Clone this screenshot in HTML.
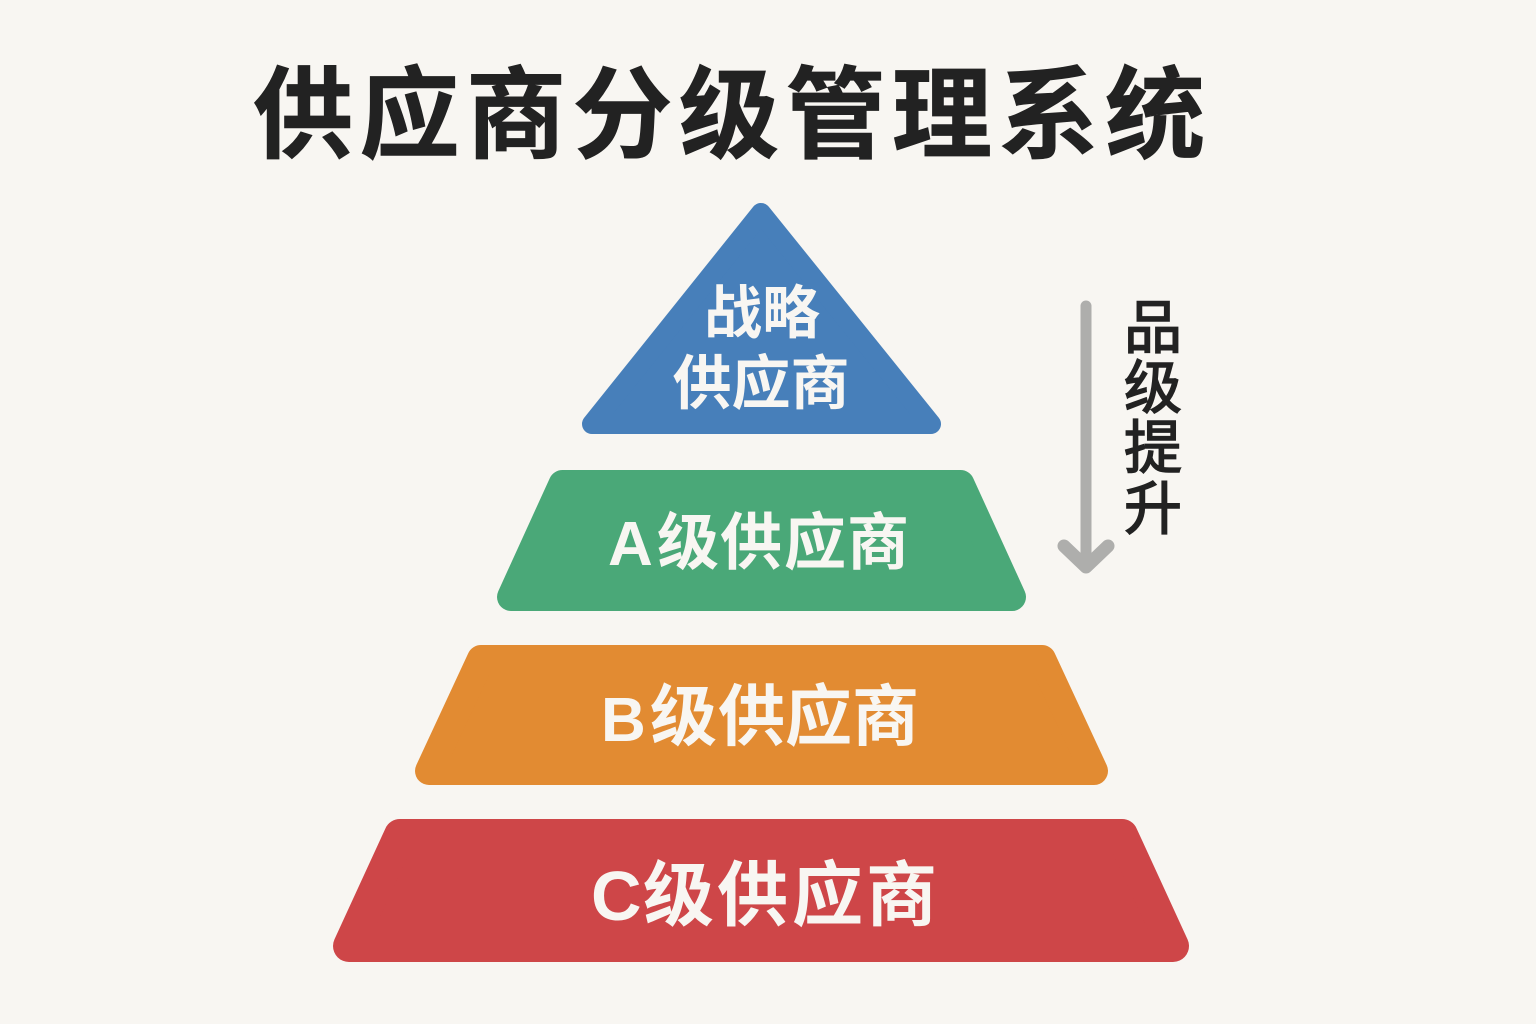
<!DOCTYPE html>
<html lang="zh">
<head>
<meta charset="utf-8">
<style>
html,body{margin:0;padding:0;background:#f8f6f2;}
svg{display:block;}
text{font-family:"Liberation Sans","Noto Sans CJK SC",sans-serif;font-weight:700;}
</style>
</head>
<body>
<svg width="1536" height="1024" viewBox="0 0 1536 1024" xmlns="http://www.w3.org/2000/svg">
<rect width="1536" height="1024" fill="#f8f6f2"/>
<text x="253 359.5 466 572.5 679 785.5 892 998.5 1105" y="150" font-size="100" fill="#222222" stroke="#222222" stroke-width="0.8">供应商分级管理系统</text>

<path d="M761 213 L931 424 L592 424 Z" fill="#477fba" stroke="#477fba" stroke-width="20" stroke-linejoin="round"/>
<path d="M562.5 484 L960.5 484 L1012 597 L511 597 Z" fill="#4aa878" stroke="#4aa878" stroke-width="28" stroke-linejoin="round"/>
<path d="M481 659 L1042 659 L1094 771 L429 771 Z" fill="#e28b32" stroke="#e28b32" stroke-width="28" stroke-linejoin="round"/>
<path d="M400 835 L1122 835 L1173 946 L349 946 Z" fill="#ce4648" stroke="#ce4648" stroke-width="32" stroke-linejoin="round"/>

<g fill="#f8f6f2">
<text x="762" y="333" font-size="58" text-anchor="middle">战略</text>
<text x="761" y="404" font-size="59" text-anchor="middle">供应商</text>
<text x="608" y="565" font-size="62">A</text>
<text x="657 720 784 847" y="564" font-size="62">级供应商</text>
<text x="601" y="741" font-size="62">B</text>
<text x="650 718 785 852" y="740" font-size="67">级供应商</text>
<text x="591" y="920" font-size="70">C</text>
<text x="643 717 792 866" y="920" font-size="71">级供应商</text>
</g>

<line x1="1086" y1="306" x2="1086" y2="560" stroke="#aeaeac" stroke-width="11" stroke-linecap="round"/>
<path d="M1064 546 L1086 567 L1108 546" fill="none" stroke="#aeaeac" stroke-width="13" stroke-linecap="round" stroke-linejoin="round"/>

<g fill="#222222" stroke="#222222" stroke-width="1.5" text-anchor="middle" font-size="58">
<text x="1153" y="348" style="font-weight:400">品</text>
<text x="1153" y="408" style="font-weight:400">级</text>
<text x="1153" y="468" style="font-weight:400">提</text>
<text x="1153" y="529" style="font-weight:400">升</text>
</g>
</svg>
</body>
</html>
